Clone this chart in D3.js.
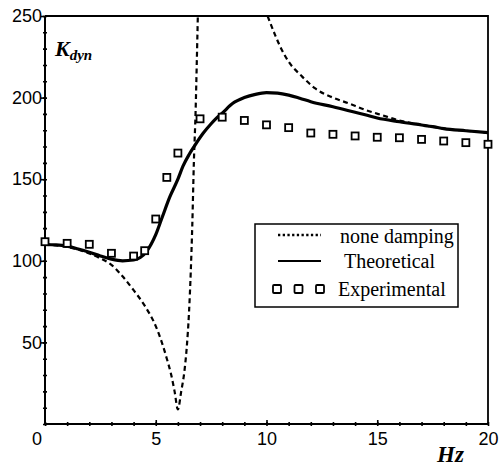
<!DOCTYPE html>
<html>
<head>
<meta charset="utf-8">
<script src="https://cdn.jsdelivr.net/npm/d3@7"></script>
<style>
  html, body { margin: 0; padding: 0; background: #fff; }
  svg { display: block; }
</style>
</head>
<body>
<svg id="chart" width="500" height="467"></svg>
<script>
// Frequency (Hz) and dynamic stiffness readings for each series
const noneDampingLowHz  = [0, 1, 2, 2.5, 3, 3.5, 4, 4.5, 5, 5.3, 5.5, 5.7, 5.85, 6.0, 6.15, 6.3, 6.4, 6.5, 6.58, 6.65, 6.72, 6.8, 6.85, 6.9];
const noneDampingLowK   = [110, 108.5, 104.5, 101.5, 97.5, 90.5, 82, 72.5, 60, 49, 40, 30, 20, 9, 20, 33, 47, 68, 93, 122, 160, 192, 220, 250];
const noneDampingHighHz = [10.05, 10.4, 10.7, 11.0, 11.6, 12.2, 13.0, 13.7, 14.5, 15.2, 16, 17, 18, 19, 20];
const noneDampingHighK  = [250, 238, 229, 222, 213, 205.6, 200, 196.5, 192.3, 189.3, 186, 183.3, 181, 179.7, 178.5];

const theoreticalHz = [0, 0.5, 1, 1.5, 2, 2.5, 3, 3.5, 4, 4.3, 4.6, 5, 5.3, 5.63, 6, 6.23, 6.5, 6.73, 7.13, 7.5, 7.73, 8, 8.48, 9, 9.5, 10, 10.5, 11, 11.5, 12, 13, 14, 14.5, 15, 16, 17, 17.5, 18, 19, 20];
const theoreticalK  = [110, 109.8, 109, 107.2, 105.2, 103, 101, 100, 100.5, 102, 106, 116, 127, 139, 150, 158, 165, 170, 178, 184, 187.3, 190.5, 196.5, 200, 202, 203, 202.7, 201.5, 199.6, 197.5, 194.4, 191, 189.3, 187.5, 185.2, 183.2, 182.2, 181, 179.7, 178.5];

const experimentalHz = [0, 1, 2, 3, 4, 4.5, 5, 5.5, 6, 7, 8, 9, 10, 11, 12, 13, 14, 15, 16, 17, 18, 19, 20];
const experimentalK  = [111.7, 110.7, 110.1, 104.6, 102.9, 106.2, 125.6, 151.1, 166, 187, 188, 186, 183.3, 181.6, 178.3, 177.5, 176.5, 175.7, 175.4, 174.4, 173.4, 172.4, 171.4];

const xTickLabels = [5, 10, 15, 20];
const yTickLabels = [50, 100, 150, 200, 250];
const legendLabels = ["none damping", "Theoretical", "Experimental"];

const svg = d3.select("#chart");
const x = d3.scaleLinear().domain([0, 20]).range([45, 488]);
const y = d3.scaleLinear().domain([0, 250]).range([424, 16]);

svg.append("defs").append("clipPath").attr("id", "plotClip")
  .append("rect")
  .attr("x", x(0)).attr("y", y(250))
  .attr("width", x(20) - x(0)).attr("height", y(0) - y(250));

// frame: top and right borders
svg.append("path")
  .attr("d", `M${x(0)},${y(250)}H${x(20)}V${y(0)}`)
  .attr("fill", "none").attr("stroke", "#000").attr("stroke-width", 1.8);

// minor ticks crossing the axes
const minorX = d3.range(0, 21, 1);
const minorY = d3.range(0, 251, 10);
function tickStyle(g) {
  g.select(".domain").remove();
  g.selectAll(".tick line").attr("stroke", "#000").attr("stroke-width", 1.6);
  g.selectAll(".tick text").remove();
}
svg.append("g").attr("transform", `translate(0,${y(0)})`)
  .call(d3.axisBottom(x).tickValues(minorX).tickSize(2)).call(tickStyle);
svg.append("g").attr("transform", `translate(0,${y(0)})`)
  .call(d3.axisTop(x).tickValues(minorX).tickSize(2)).call(tickStyle);
svg.append("g").attr("transform", `translate(0,${y(0)})`)
  .call(d3.axisTop(x).tickValues([5, 10, 15]).tickSize(4)).call(tickStyle);
svg.append("g").attr("transform", `translate(${x(0)},0)`)
  .call(d3.axisLeft(y).tickValues(minorY).tickSize(2)).call(tickStyle);
svg.append("g").attr("transform", `translate(${x(0)},0)`)
  .call(d3.axisRight(y).tickValues(minorY).tickSize(2)).call(tickStyle);
svg.append("g").attr("transform", `translate(${x(0)},0)`)
  .call(d3.axisLeft(y).tickValues(yTickLabels).tickSize(4)).call(tickStyle);

// axis lines
svg.append("path")
  .attr("d", `M${x(0)},${y(250)}V${y(0)}H${x(20)}`)
  .attr("fill", "none").attr("stroke", "#000").attr("stroke-width", 2);

// tick labels
const labelFont = "'Liberation Sans', Arial, sans-serif";
const xLab = svg.append("g").attr("transform", `translate(0,${y(0)})`)
  .call(d3.axisBottom(x).tickValues(xTickLabels).tickSize(0).tickPadding(8).tickFormat(d3.format("d")));
xLab.select(".domain").remove();
xLab.selectAll("text").attr("font-family", labelFont).attr("font-size", 18).attr("fill", "#000");

const yLab = svg.append("g").attr("transform", `translate(${x(0)},0)`)
  .call(d3.axisLeft(y).tickValues(yTickLabels).tickSize(0).tickPadding(3).tickFormat(d3.format("d")));
yLab.select(".domain").remove();
yLab.selectAll("text").attr("font-family", labelFont).attr("font-size", 18).attr("fill", "#000");

svg.append("text").attr("x", 37).attr("y", 445)
  .attr("text-anchor", "middle")
  .attr("font-family", labelFont).attr("font-size", 18).text("0");

// axis titles
const titleFont = "'Liberation Serif', 'Times New Roman', serif";
const kt = svg.append("text").attr("x", 55).attr("y", 56)
  .attr("font-family", titleFont).attr("font-weight", "bold").attr("font-style", "italic")
  .attr("font-size", 22);
kt.append("tspan").text("K");
kt.append("tspan").attr("font-size", 15).attr("dy", 4).text("dyn");

svg.append("text").attr("x", 437).attr("y", 462)
  .attr("font-family", titleFont).attr("font-weight", "bold").attr("font-style", "italic")
  .attr("font-size", 23).text("Hz");

// series
const plot = svg.append("g").attr("clip-path", "url(#plotClip)");
const line = d3.line().x(d => x(d[0])).y(d => y(d[1])).curve(d3.curveMonotoneX);

const noneLow  = noneDampingLowHz.map((h, i) => [h, noneDampingLowK[i]]);
const noneHigh = noneDampingHighHz.map((h, i) => [h, noneDampingHighK[i]]);
[noneLow, noneHigh].forEach(seg => {
  plot.append("path").datum(seg).attr("d", line)
    .attr("fill", "none").attr("stroke", "#000")
    .attr("stroke-width", 2.2).attr("stroke-dasharray", "5,3.5");
});

plot.append("path")
  .datum(theoreticalHz.map((h, i) => [h, theoreticalK[i]]))
  .attr("d", line)
  .attr("fill", "none").attr("stroke", "#000").attr("stroke-width", 3.2)
  .attr("stroke-linejoin", "round");

const sq = 7;
svg.append("g").selectAll("rect")
  .data(experimentalHz.map((h, i) => [h, experimentalK[i]]))
  .join("rect")
  .attr("x", d => x(d[0]) - sq / 2).attr("y", d => y(d[1]) - sq / 2)
  .attr("width", sq).attr("height", sq)
  .attr("fill", "#fff").attr("stroke", "#000").attr("stroke-width", 1.8);

// legend
const lg = svg.append("g");
lg.append("rect").attr("x", 255).attr("y", 224).attr("width", 203).attr("height", 83)
  .attr("fill", "#fff").attr("stroke", "#000").attr("stroke-width", 1.5);
lg.append("line").attr("x1", 278).attr("x2", 321).attr("y1", 235).attr("y2", 235)
  .attr("stroke", "#000").attr("stroke-width", 2.4).attr("stroke-dasharray", "2.3,2.4");
lg.append("line").attr("x1", 278).attr("x2", 321).attr("y1", 261).attr("y2", 261)
  .attr("stroke", "#000").attr("stroke-width", 2.2);
[277, 298.5, 320].forEach(cx => {
  lg.append("rect").attr("x", cx - 4).attr("y", 285).attr("width", 8).attr("height", 8)
    .attr("fill", "#fff").attr("stroke", "#000").attr("stroke-width", 1.8)
    .attr("rx", 1);
});
const legendX = [340, 344, 338];
const legendY = [243, 268, 296];
legendLabels.forEach((t, i) => {
  lg.append("text").attr("x", legendX[i]).attr("y", legendY[i])
    .attr("font-family", titleFont).attr("font-size", 20).text(t);
});
</script>
</body>
</html>
